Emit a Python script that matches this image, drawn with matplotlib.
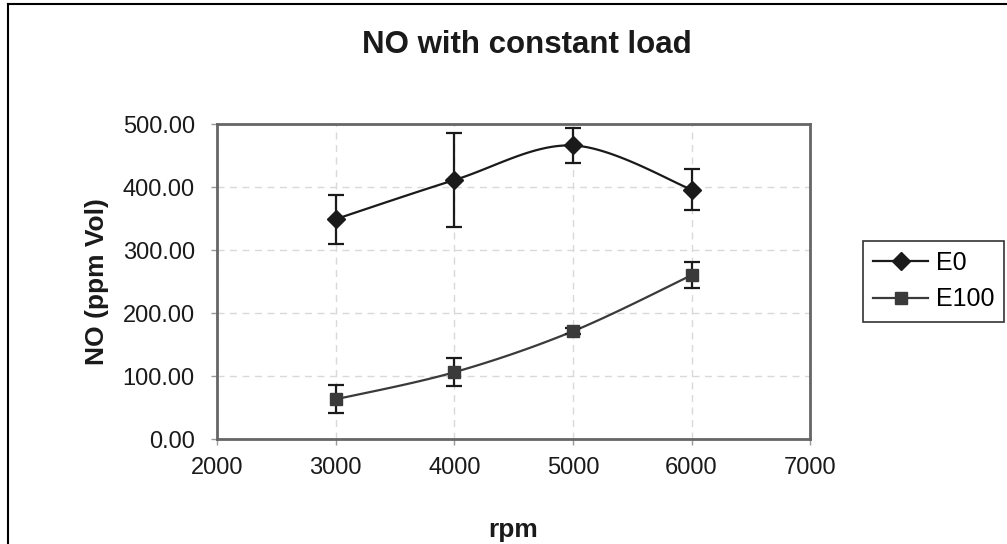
import numpy as np
import matplotlib
matplotlib.use("Agg")
import matplotlib.pyplot as plt
from matplotlib.lines import Line2D

plt.rcParams['font.family'] = ['Liberation Sans', 'DejaVu Sans']

rpm = [3000, 4000, 5000, 6000]
e0 = [349, 411, 466, 396]
e0_err = [39, 75, 28, 33]
e100 = [63, 106, 171, 260]
e100_err = [22, 22, 5, 21]

title = "NO with constant load"
xlabel = "rpm"
ylabel = "NO (ppm Vol)"
xticks = [2000, 3000, 4000, 5000, 6000, 7000]
yticks = [0, 100, 200, 300, 400, 500]


def smooth(x, y, n=40):
    # Catmull-Rom style smoothing (like spreadsheet "smoothed line")
    x = np.asarray(x, float); y = np.asarray(y, float)
    px = np.concatenate([[x[0]], x, [x[-1]]])
    py = np.concatenate([[y[0]], y, [y[-1]]])
    xs, ys = [], []
    t = np.linspace(0, 1, n)
    for i in range(1, len(px) - 2):
        p0, p1, p2, p3 = [np.array([px[j], py[j]]) for j in (i - 1, i, i + 1, i + 2)]
        c1 = p1 + (p2 - p0) / 6.0
        c2 = p2 - (p3 - p1) / 6.0
        b = ((1 - t) ** 3)[:, None] * p1 + (3 * (1 - t) ** 2 * t)[:, None] * c1 \
            + (3 * (1 - t) * t ** 2)[:, None] * c2 + (t ** 3)[:, None] * p2
        xs.append(b[:, 0]); ys.append(b[:, 1])
    return np.concatenate(xs), np.concatenate(ys)


fig = plt.figure(figsize=(10.07, 5.44), dpi=100)
ax = fig.add_axes([0.2155, 0.193, 0.589, 0.579])

c0 = '#1a1a1a'
c1 = '#3a3a3a'

sx, sy = smooth(rpm, e0)
ax.plot(sx, sy, color=c0, lw=1.6, zorder=3)
ax.errorbar(rpm, e0, yerr=e0_err, fmt='none', ecolor=c0, elinewidth=1.6,
            capsize=6, capthick=1.6, zorder=4)
ax.plot(rpm, e0, linestyle='none', marker='D', ms=9, color=c0, zorder=5)

sx, sy = smooth(rpm, e100)
ax.plot(sx, sy, color=c1, lw=1.6, zorder=3)
ax.errorbar(rpm, e100, yerr=e100_err, fmt='none', ecolor=c0, elinewidth=1.6,
            capsize=6, capthick=1.6, zorder=4)
ax.plot(rpm, e100, linestyle='none', marker='s', ms=8, color=c1, zorder=5)

ax.set_xlim(2000, 7000)
ax.set_ylim(0, 500)
ax.set_xticks(xticks)
ax.set_yticks(yticks)
ax.set_xticklabels([str(v) for v in xticks])
ax.set_yticklabels([f"{v:.2f}" for v in yticks])
ax.tick_params(axis='both', labelsize=17, colors='#999999', labelcolor='#1a1a1a',
               direction='out', length=4, width=1)
ax.tick_params(axis='y', pad=12)
ax.tick_params(axis='x', pad=9)
ax.grid(True, color='#d9d9d9', linestyle=(0, (5, 4)), linewidth=1)
ax.set_axisbelow(True)
for s in ax.spines.values():
    s.set_color('#666666')
    s.set_linewidth(2)

fig.text(527 / 1007, 1 - 53 / 544, title, fontsize=22.5, fontweight='bold',
         color='#1a1a1a', ha='center', va='baseline')
ax.set_xlabel(xlabel, fontsize=19, fontweight='bold', labelpad=28, color='#1a1a1a')
ax.set_ylabel(ylabel, fontsize=19, fontweight='bold', labelpad=10, color='#1a1a1a')

handles = [
    Line2D([], [], color=c0, lw=1.6, marker='D', ms=9),
    Line2D([], [], color=c1, lw=1.6, marker='s', ms=8),
]
leg = fig.legend(handles, ['E0', 'E100'], loc='upper left',
                 bbox_to_anchor=(863 / 1007, 1 - 241 / 544), fontsize=18,
                 frameon=True, fancybox=False, edgecolor='black',
                 handlelength=2.2, handletextpad=0.3, borderpad=0.4,
                 labelspacing=0.5, borderaxespad=0)
leg.get_frame().set_linewidth(1.2)

# outer chart frame (left and top edges visible)
fig.add_artist(Line2D([8 / 1007, 8 / 1007], [0, 1 - 4 / 544], transform=fig.transFigure,
                      color='black', lw=1.5))
fig.add_artist(Line2D([8 / 1007, 1], [1 - 4 / 544, 1 - 4 / 544], transform=fig.transFigure,
                      color='black', lw=1.5))

fig.savefig('out.png', dpi=100)
